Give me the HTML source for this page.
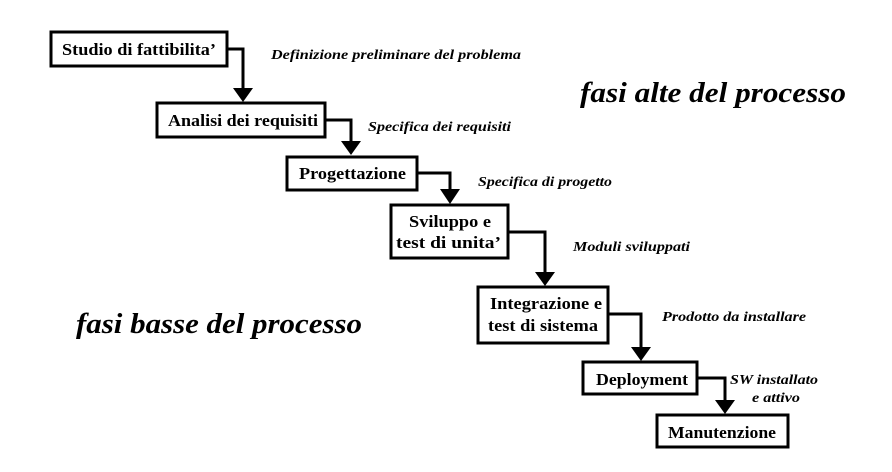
<!DOCTYPE html>
<html><head><meta charset="utf-8"><style>
body{margin:0;background:#fff;}
svg{display:block;font-family:"Liberation Serif",serif;}
.b{font-weight:bold;font-size:17px;fill:#000;}
.l{font-style:italic;font-weight:bold;font-size:14px;fill:#000;}
.big{font-style:italic;font-weight:bold;font-size:29px;fill:#000;}
rect{fill:#fff;stroke:#000;stroke-width:3;}
path.c{fill:none;stroke:#000;stroke-width:3;}
</style></head><body>
<svg width="892" height="472" viewBox="0 0 892 472">
<path class="c" d="M227 49 H243 V90"/><polygon points="233,88 253,88 243,102"/>
<path class="c" d="M325 120 H351 V143"/><polygon points="341,141 361,141 351,155"/>
<path class="c" d="M417 173 H450 V191"/><polygon points="440,189 460,189 450,204"/>
<path class="c" d="M508 232 H545 V274"/><polygon points="535,272 555,272 545,286"/>
<path class="c" d="M608 314 H641 V349"/><polygon points="631,347 651,347 641,361"/>
<path class="c" d="M697 378 H725 V402"/><polygon points="715,400 735,400 725,414"/>
<rect x="51" y="32" width="176" height="34"/>
<text class="b" x="62" y="55" textLength="154" lengthAdjust="spacingAndGlyphs">Studio di fattibilita’</text>
<rect x="157" y="103" width="168" height="34"/>
<text class="b" x="168" y="126" textLength="150" lengthAdjust="spacingAndGlyphs">Analisi dei requisiti</text>
<rect x="287" y="157" width="130" height="33"/>
<text class="b" x="299" y="179" textLength="107" lengthAdjust="spacingAndGlyphs">Progettazione</text>
<rect x="391" y="205" width="117" height="53"/>
<text class="b" x="409" y="227" textLength="82" lengthAdjust="spacingAndGlyphs">Sviluppo e</text>
<text class="b" x="396" y="248" textLength="105" lengthAdjust="spacingAndGlyphs">test di unita’</text>
<rect x="478" y="287" width="130" height="56"/>
<text class="b" x="490" y="309" textLength="112" lengthAdjust="spacingAndGlyphs">Integrazione e</text>
<text class="b" x="488" y="331" textLength="110" lengthAdjust="spacingAndGlyphs">test di sistema</text>
<rect x="583" y="362" width="114" height="32"/>
<text class="b" x="596" y="385" textLength="92" lengthAdjust="spacingAndGlyphs">Deployment</text>
<rect x="657" y="415" width="131" height="32"/>
<text class="b" x="668" y="438" textLength="108" lengthAdjust="spacingAndGlyphs">Manutenzione</text>
<text class="l" x="271" y="59" textLength="250" lengthAdjust="spacingAndGlyphs">Definizione preliminare del  problema</text>
<text class="l" x="368" y="131" textLength="143" lengthAdjust="spacingAndGlyphs">Specifica dei requisiti</text>
<text class="l" x="478" y="186" textLength="134" lengthAdjust="spacingAndGlyphs">Specifica di progetto</text>
<text class="l" x="573" y="251" textLength="117" lengthAdjust="spacingAndGlyphs">Moduli sviluppati</text>
<text class="l" x="662" y="321" textLength="144" lengthAdjust="spacingAndGlyphs">Prodotto da installare</text>
<text class="l" x="730" y="384" textLength="88" lengthAdjust="spacingAndGlyphs">SW installato</text>
<text class="l" x="752" y="402" textLength="48" lengthAdjust="spacingAndGlyphs">e attivo</text>
<text class="big" x="580" y="102" textLength="266" lengthAdjust="spacingAndGlyphs">fasi alte del processo</text>
<text class="big" x="76" y="333" textLength="286" lengthAdjust="spacingAndGlyphs">fasi basse del processo</text>
</svg>
</body></html>
